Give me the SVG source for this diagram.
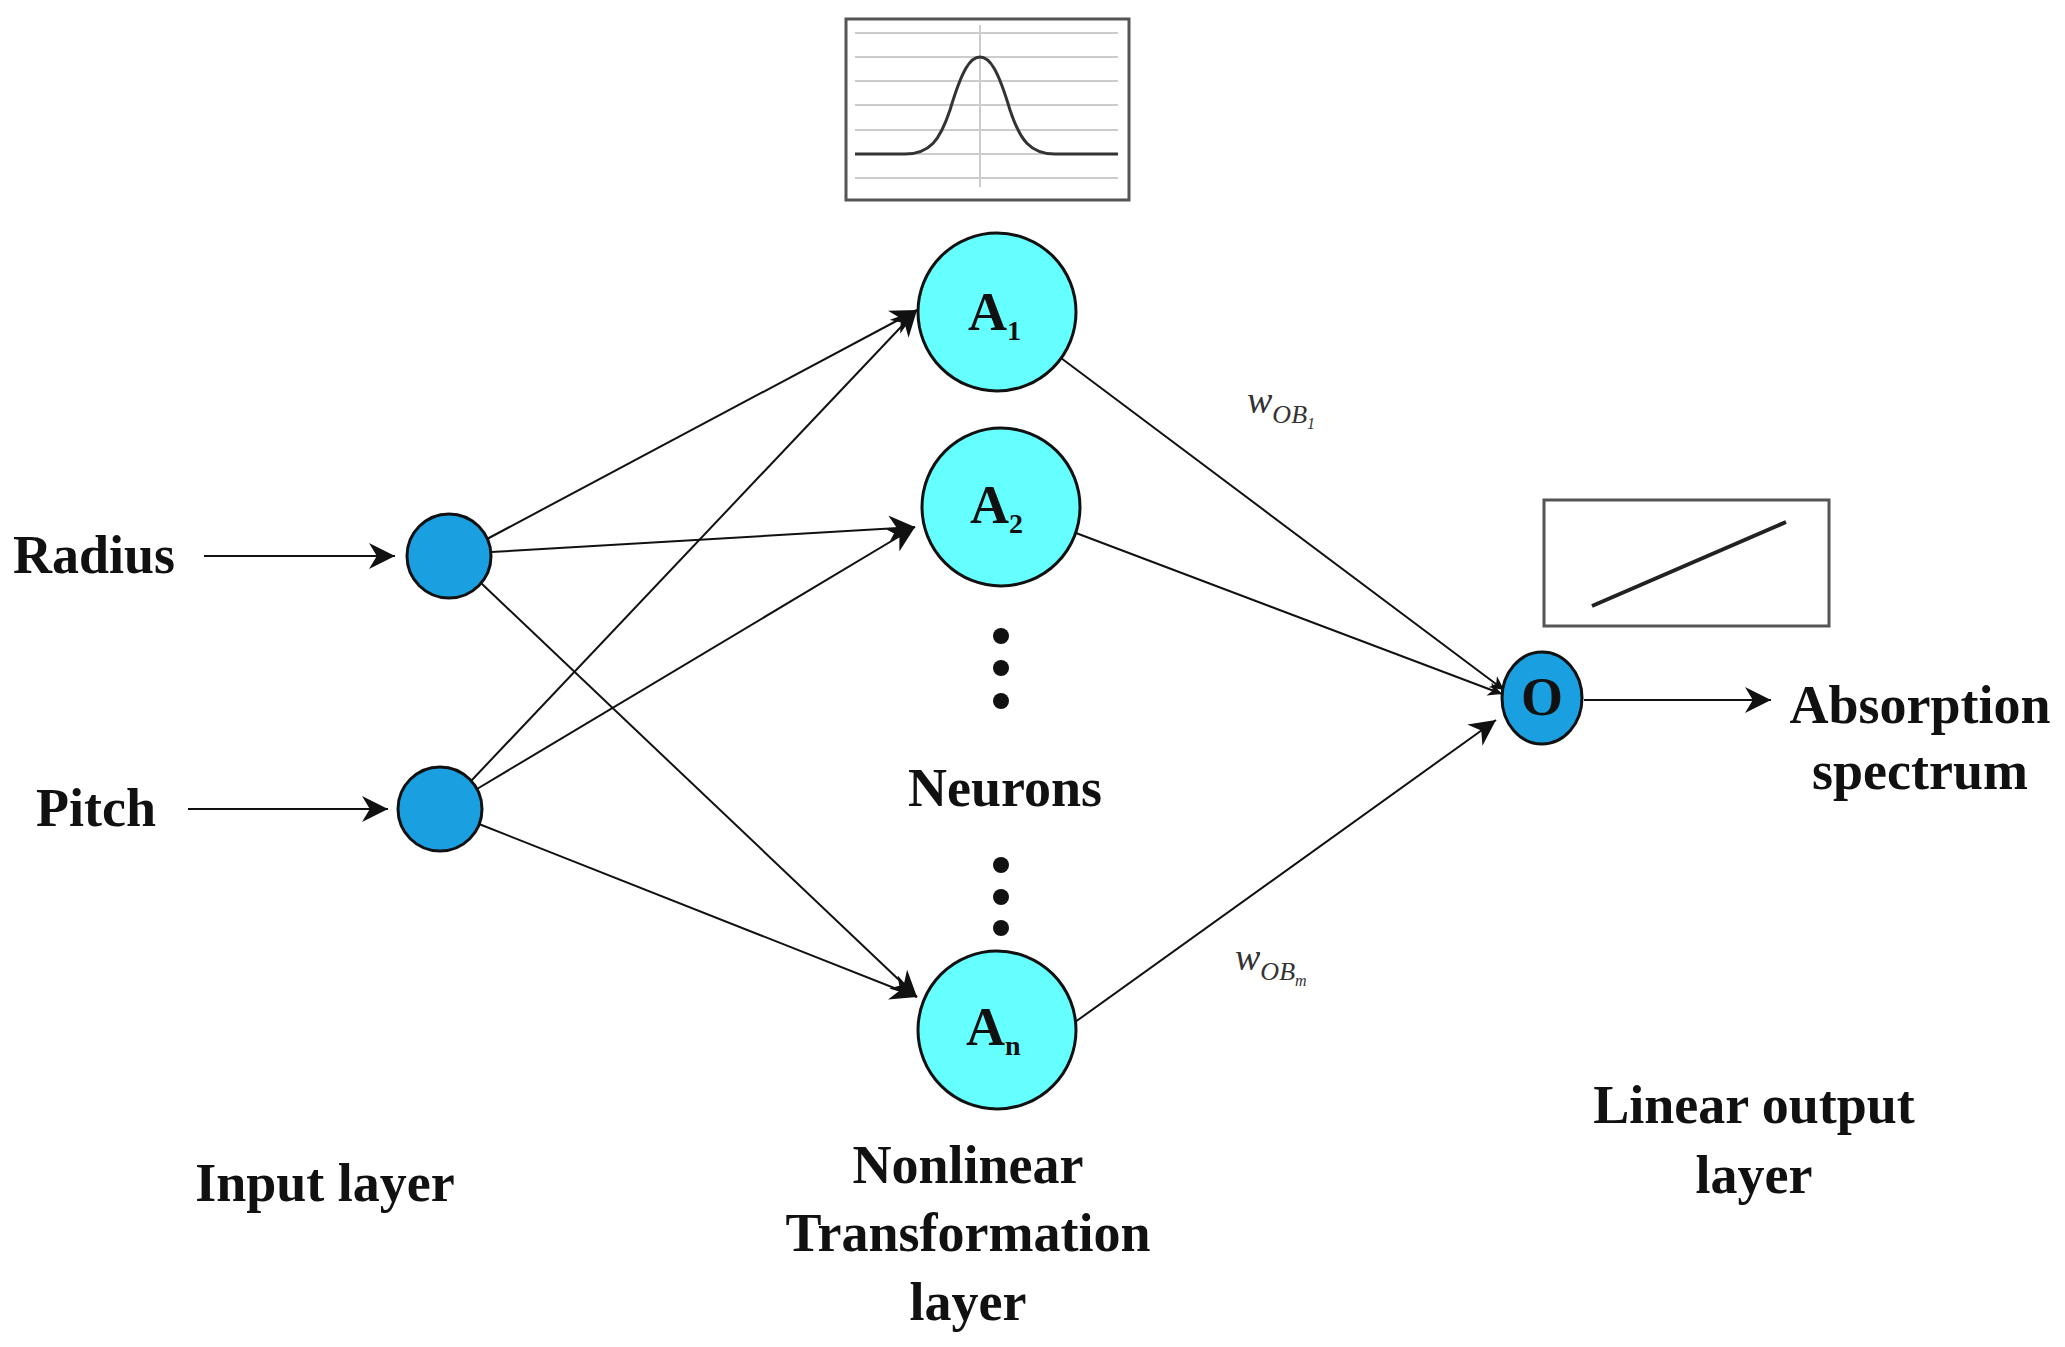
<svg xmlns="http://www.w3.org/2000/svg" width="2065" height="1347" viewBox="0 0 2065 1347">
<style>
.t{font-family:"Liberation Serif",serif;font-weight:bold;font-size:54px;fill:#111}
.c{stroke:#111;stroke-width:2;fill:none}
.n{fill:#6ff;stroke:#111;stroke-width:3}
.i{fill:#1aa0e0;stroke:#111;stroke-width:3}
.g{stroke:#ccc;stroke-width:2}
</style>
<defs><marker id="a" viewBox="0 0 10 10" refX="10" refY="5" markerWidth="14" markerHeight="14" markerUnits="userSpaceOnUse" orient="auto"><path d="M0,0L10,5L0,10L3,5z" fill="#111"/></marker>
<marker id="b" viewBox="0 0 10 10" refX="10" refY="5" markerWidth="26" markerHeight="26" markerUnits="userSpaceOnUse" orient="auto"><path d="M0,0L10,5L0,10L3,5z" fill="#111"/></marker></defs>
<rect width="2065" height="1347" fill="#fff"/>
<g id="gauss">
<rect x="846" y="19" width="283" height="181" fill="#fff" stroke="#555" stroke-width="3"/>
<g class="g"><line x1="855" y1="33" x2="1118" y2="33"/><line x1="855" y1="57" x2="1118" y2="57"/><line x1="855" y1="81" x2="1118" y2="81"/><line x1="855" y1="105" x2="1118" y2="105"/><line x1="855" y1="130" x2="1118" y2="130"/><line x1="855" y1="154" x2="1118" y2="154"/><line x1="855" y1="178" x2="1118" y2="178"/><line x1="980" y1="25" x2="980" y2="187"/></g>
<path d="M855,154 L905,154 C930,154 940,140 950,110 C962,70 970,57 980,57 C990,57 998,70 1010,110 C1020,140 1030,154 1055,154 L1118,154" fill="none" stroke="#333" stroke-width="3"/>
</g>
<g id="linbox"><rect x="1544" y="500" width="285" height="126" fill="#fff" stroke="#555" stroke-width="3"/><line x1="1592" y1="606" x2="1786" y2="522" stroke="#222" stroke-width="4"/></g>
<g id="connectors">
<line class="c" x1="204" y1="556" x2="395" y2="556" marker-end="url(#b)"/>
<line class="c" x1="188" y1="809" x2="388" y2="809" marker-end="url(#b)"/>
<line class="c" x1="487" y1="539" x2="917" y2="310" marker-end="url(#b)"/>
<line class="c" x1="491" y1="552" x2="915" y2="527" marker-end="url(#b)"/>
<line class="c" x1="481" y1="583" x2="917" y2="997" marker-end="url(#b)"/>
<line class="c" x1="471" y1="781" x2="917" y2="310" marker-end="url(#b)"/>
<line class="c" x1="477" y1="789" x2="915" y2="527" marker-end="url(#b)"/>
<line class="c" x1="479" y1="824" x2="917" y2="997" marker-end="url(#b)"/>
<line class="c" x1="1061" y1="358" x2="1504" y2="690" marker-end="url(#a)"/>
<line class="c" x1="1076" y1="533" x2="1502" y2="694" marker-end="url(#a)"/>
<line class="c" x1="1064" y1="1030" x2="1496" y2="720" marker-end="url(#b)"/>
<line class="c" x1="1584" y1="700" x2="1771" y2="700" stroke-width="3" marker-end="url(#b)"/>
</g>
<g id="A1"><circle class="n" cx="997" cy="312" r="79"/><text class="t" x="968" y="330" font-size="50">A<tspan font-size="28" dy="10">1</tspan></text></g>
<g id="A2"><circle class="n" cx="1001" cy="507" r="79"/><text class="t" x="970" y="523" font-size="50">A<tspan font-size="28" dy="10">2</tspan></text></g>
<g id="An"><circle class="n" cx="997" cy="1030" r="79"/><text class="t" x="966" y="1045" font-size="50">A<tspan font-size="28" dy="10">n</tspan></text></g>
<g id="dots" fill="#111"><circle cx="1001" cy="636" r="8"/><circle cx="1001" cy="668" r="8"/><circle cx="1001" cy="701" r="8"/><circle cx="1001" cy="865" r="8"/><circle cx="1001" cy="897" r="8"/><circle cx="1001" cy="928" r="8"/></g>
<g id="radius"><circle class="i" cx="449" cy="556" r="42"/></g>
<g id="pitch"><circle class="i" cx="440" cy="809" r="42"/></g>
<g id="O"><ellipse class="i" cx="1542" cy="698" rx="40" ry="46"/><text class="t" x="1542" y="715" text-anchor="middle" font-size="50">O</text></g>
<g id="labels">
<text class="t" x="13" y="573">Radius</text>
<text class="t" x="36" y="826">Pitch</text>
<text class="t" x="1005" y="806" text-anchor="middle">Neurons</text>
<text class="t" x="325" y="1201" text-anchor="middle">Input layer</text>
<text class="t" x="968" y="1183" text-anchor="middle">Nonlinear</text>
<text class="t" x="968" y="1251" text-anchor="middle">Transformation</text>
<text class="t" x="968" y="1320" text-anchor="middle">layer</text>
<text class="t" x="1754" y="1123" text-anchor="middle">Linear output</text>
<text class="t" x="1754" y="1193" text-anchor="middle">layer</text>
<text class="t" x="1920" y="723" text-anchor="middle">Absorption</text>
<text class="t" x="1920" y="789" text-anchor="middle">spectrum</text>
<text x="1247" y="413" font-family="Liberation Serif,serif" font-style="italic" font-size="38" fill="#333">w<tspan font-size="26" dy="10">OB</tspan><tspan font-size="16" dy="6">1</tspan></text>
<text x="1235" y="970" font-family="Liberation Serif,serif" font-style="italic" font-size="38" fill="#333">w<tspan font-size="26" dy="10">OB</tspan><tspan font-size="16" dy="6">m</tspan></text>
</g>
</svg>
